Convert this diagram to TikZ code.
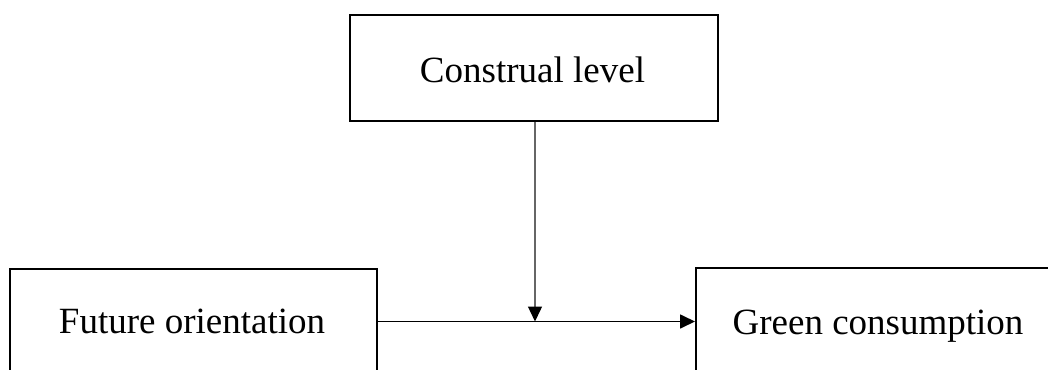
\documentclass[tikz,border=0pt]{standalone}
\usepackage{fontspec}
\setmainfont{Liberation Serif}
\usetikzlibrary{arrows.meta}
\begin{document}
\begin{tikzpicture}[x=1pt,y=-1pt,
  box/.style={draw=black,line width=2pt,inner sep=0pt,fill=none},
  lbl/.style={font=\fontsize{37}{40}\selectfont,anchor=base,inner sep=0pt},
  arr/.style={line width=1.7pt,-{Triangle[length=15pt,width=14pt,color=black]}}]
\useasboundingbox (0,0) rectangle (1048,369);
\begin{scope}
\clip (0,0) rectangle (1048,369);
\node[box,anchor=north west,minimum width=368pt,minimum height=106pt] (cl) at (349,14) {};
\node[box,anchor=north west,minimum width=367pt,minimum height=150pt] (fo) at (9,268) {};
\node[box,anchor=north west,minimum width=400pt,minimum height=150pt] (gc) at (695,267) {};
\end{scope}
\node[lbl] (clt) at (532.5,82) {Construal level};
\node[lbl] (fot) at (192,333) {Future orientation};
\node[lbl] (gct) at (878,334) {Green consumption};
\coordinate (hl) at (0,321.5);
\draw[arr] (fo.east |- hl) -- (gc.west |- hl);
\coordinate (vx) at (535,0);
\draw[arr,line width=1.4pt,draw=black!60] (cl.south -| vx) -- (vx |- hl);
\end{tikzpicture}
\end{document}
